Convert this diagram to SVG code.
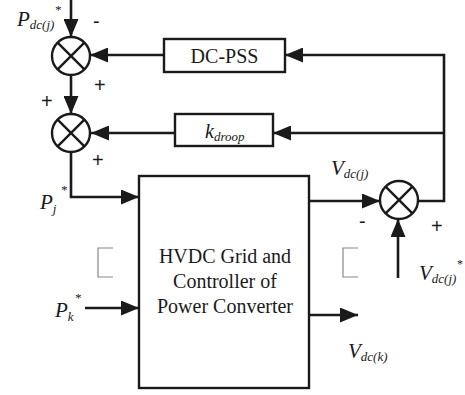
<svg xmlns="http://www.w3.org/2000/svg" width="465" height="395" viewBox="0 0 465 395">
<style>
.ln{fill:none;stroke:#1a1a1a;stroke-width:2.6}
.bx{fill:#fff;stroke:#1a1a1a;stroke-width:2.4}
.sum{fill:#fff;stroke:#1a1a1a;stroke-width:2.4}
.x{stroke:#1a1a1a;stroke-width:2.4}
.br{fill:none;stroke:#888;stroke-width:1.2}
</style>
<defs>
<marker id="ah" markerUnits="userSpaceOnUse" markerWidth="18" markerHeight="15" refX="18" refY="7.5" orient="auto">
<path d="M0,0 L18,7.5 L0,15 z" fill="#1a1a1a"/>
</marker>
</defs>
<g id="connectors">
<path class="ln" d="M71,0 L71,37" marker-end="url(#ah)"/>
<path class="ln" d="M164,55 L90,55" marker-end="url(#ah)"/>
<path class="ln" d="M71,75 L71,114" marker-end="url(#ah)"/>
<path class="ln" d="M175,133 L91,133" marker-end="url(#ah)"/>
<path class="ln" d="M71,152 L71,197 L139,197" marker-end="url(#ah)"/>
<path class="ln" d="M85,308 L139,308" marker-end="url(#ah)"/>
<path class="ln" d="M309,201 L380,201" marker-end="url(#ah)"/>
<path class="ln" d="M418,201 L444,201 L444,55 L285,55" marker-end="url(#ah)"/>
<path class="ln" d="M444,133 L273,133" marker-end="url(#ah)"/>
<path class="ln" d="M398,278 L398,219" marker-end="url(#ah)"/>
<path class="ln" d="M309,315 L358,315" marker-end="url(#ah)"/>
</g>
<g id="sum1">
<circle class="sum" cx="71" cy="56" r="19"/>
<path class="x" d="M57.6,42.6 L84.4,69.4 M84.4,42.6 L57.6,69.4"/>
</g>
<g id="sum2">
<circle class="sum" cx="71" cy="133" r="19"/>
<path class="x" d="M57.6,119.6 L84.4,146.4 M84.4,119.6 L57.6,146.4"/>
</g>
<g id="sum3">
<circle class="sum" cx="399" cy="200" r="19"/>
<path class="x" d="M385.6,186.6 L412.4,213.4 M412.4,186.6 L385.6,213.4"/>
</g>
<g id="dcpss">
<rect class="bx" x="164" y="39" width="121" height="33"/>
<text x="224.5" y="63" font-family="Liberation Serif, Times New Roman, serif" font-size="20" fill="#1a1a1a" text-anchor="middle">DC-PSS</text>
</g>
<g id="kdroop">
<rect class="bx" x="175" y="114" width="98" height="32"/>
<text x="205" y="138" font-family="Liberation Serif, Times New Roman, serif" font-style="italic" font-size="20" fill="#1a1a1a">k<tspan font-size="13" dy="3">droop</tspan></text>
</g>
<g id="main">
<rect class="bx" x="139" y="176" width="170" height="212"/>
<text x="225" y="263" font-family="Liberation Serif, Times New Roman, serif" font-size="20" fill="#1a1a1a" text-anchor="middle">HVDC Grid and</text>
<text x="225" y="288" font-family="Liberation Serif, Times New Roman, serif" font-size="20" fill="#1a1a1a" text-anchor="middle">Controller of</text>
<text x="225" y="313" font-family="Liberation Serif, Times New Roman, serif" font-size="20" fill="#1a1a1a" text-anchor="middle">Power Converter</text>
</g>
<g id="labels">
<text x="17" y="26" font-family="Liberation Serif, Times New Roman, serif" font-style="italic" font-size="21" fill="#1a1a1a">P<tspan font-size="13" dy="3">dc(j)</tspan><tspan font-size="13" dy="-15">*</tspan></text>
<text x="40" y="209" font-family="Liberation Serif, Times New Roman, serif" font-style="italic" font-size="21" fill="#1a1a1a">P<tspan font-size="13" dy="4">j</tspan><tspan font-size="13" dx="4" dy="-19">*</tspan></text>
<text x="55" y="317" font-family="Liberation Serif, Times New Roman, serif" font-style="italic" font-size="21" fill="#1a1a1a">P<tspan font-size="13" dy="4">k</tspan><tspan font-size="13" dx="1" dy="-19">*</tspan></text>
<text x="331" y="175" font-family="Liberation Serif, Times New Roman, serif" font-style="italic" font-size="21" fill="#1a1a1a">V<tspan font-size="13" dy="3">dc(j)</tspan></text>
<text x="419" y="280" font-family="Liberation Serif, Times New Roman, serif" font-style="italic" font-size="21" fill="#1a1a1a">V<tspan font-size="13" dy="3">dc(j)</tspan><tspan font-size="12" dy="-15">*</tspan></text>
<text x="348" y="358" font-family="Liberation Serif, Times New Roman, serif" font-style="italic" font-size="21" fill="#1a1a1a">V<tspan font-size="13" dy="3">dc(k)</tspan></text>
</g>
<g id="signs">
<text x="93" y="28" font-family="Liberation Sans, sans-serif" font-size="20" fill="#1a1a1a">-</text>
<text x="94" y="92" font-family="Liberation Sans, sans-serif" font-size="20" fill="#1a1a1a">+</text>
<text x="41" y="108" font-family="Liberation Sans, sans-serif" font-size="20" fill="#1a1a1a">+</text>
<text x="92" y="167" font-family="Liberation Sans, sans-serif" font-size="20" fill="#1a1a1a">+</text>
<text x="359" y="228" font-family="Liberation Sans, sans-serif" font-size="20" fill="#1a1a1a">-</text>
<text x="431" y="233" font-family="Liberation Sans, sans-serif" font-size="20" fill="#1a1a1a">+</text>
</g>
<g id="brackets">
<path class="br" d="M113,248 L98,248 L98,277 L113,277"/>
<path class="br" d="M358,248 L343,248 L343,277 L358,277"/>
</g>
</svg>
